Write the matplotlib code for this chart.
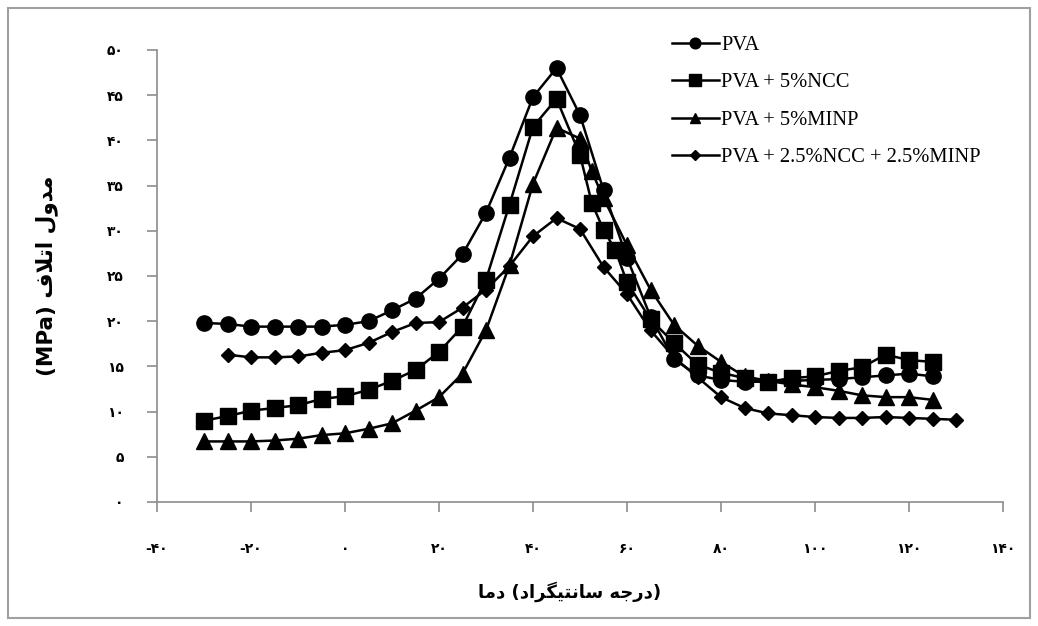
import numpy as np
import matplotlib
matplotlib.use('Agg')
from matplotlib import pyplot as plt
from matplotlib.patches import Rectangle

# temperature (C) and loss modulus (MPa)
x_pva = [-30, -25, -20, -15, -10, -5, 0, 5, 10, 15, 20, 25, 30, 35, 40, 45, 50, 55, 60, 65,
         70, 75, 80, 85, 90, 95, 100, 105, 110, 115, 120, 125]
y_pva = [19.8, 19.7, 19.4, 19.4, 19.4, 19.4, 19.6, 20.0, 21.2, 22.5, 24.7, 27.4, 32.0, 38.1, 44.8, 48.0, 42.8, 34.5, 27.0, 20.5,
         15.8, 14.0, 13.5, 13.3, 13.3, 13.4, 13.5, 13.6, 13.8, 14.0, 14.2, 13.9]

x_ncc = [-30, -25, -20, -15, -10, -5, 0, 5, 10, 15, 20, 25, 30, 35, 40, 45, 50, 52.5, 55, 57.5, 60, 65,
         70, 75, 80, 85, 90, 95, 100, 105, 110, 115, 120, 125]
y_ncc = [9.0, 9.5, 10.1, 10.4, 10.7, 11.4, 11.7, 12.4, 13.4, 14.6, 16.6, 19.4, 24.6, 32.9, 41.5, 44.6, 38.4, 33.1, 30.1, 27.9, 24.3, 20.2,
         17.6, 15.2, 14.3, 13.7, 13.3, 13.7, 13.9, 14.5, 14.9, 16.3, 15.7, 15.5]

x_minp = [-30, -25, -20, -15, -10, -5, 0, 5, 10, 15, 20, 25, 30, 35, 40, 45, 50, 52.5, 55, 60, 65,
          70, 75, 80, 85, 90, 95, 100, 105, 110, 115, 120, 125]
y_minp = [6.7, 6.7, 6.7, 6.8, 7.0, 7.4, 7.6, 8.1, 8.7, 10.1, 11.6, 14.2, 19.0, 26.2, 35.2, 41.4, 40.2, 36.6, 33.6, 28.4, 23.5,
          19.6, 17.3, 15.5, 13.9, 13.4, 13.0, 12.7, 12.3, 11.8, 11.6, 11.6, 11.3]

x_mix = [-25, -20, -15, -10, -5, 0, 5, 10, 15, 20, 25, 30, 35, 40, 45, 50, 55, 60, 65,
         70, 75, 80, 85, 90, 95, 100, 105, 110, 115, 120, 125, 130]
y_mix = [16.3, 16.0, 16.0, 16.1, 16.5, 16.8, 17.6, 18.8, 19.8, 19.9, 21.5, 23.5, 26.1, 29.4, 31.4, 30.2, 26.0, 23.0, 19.0,
         16.0, 13.8, 11.6, 10.4, 9.8, 9.6, 9.4, 9.3, 9.3, 9.4, 9.3, 9.2, 9.1]

series_names = ['PVA', 'PVA + 5%NCC', 'PVA + 5%MINP', 'PVA + 2.5%NCC + 2.5%MINP']
x_ticks = [-40, -20, 0, 20, 40, 60, 80, 100, 120, 140]
y_ticks = [0, 5, 10, 15, 20, 25, 30, 35, 40, 45, 50]

# persian digits and pre-shaped labels (visual order, matplotlib has no bidi)
fa_digits = str.maketrans('0123456789', '\u06f0\u06f1\u06f2\u06f3\u06f4\u06f5\u06f6\u06f7\u06f8\u06f9')
def fa(n):
    return str(n).translate(fa_digits)

word_dama = '\ufe8e\ufee3\ufea9'
word_daraje = '\ufeea\ufe9f\ufead\ufea9'
word_santigrad = '\ufea9\ufe8d\ufeae\ufb95\ufbff\ufe98\ufee7\ufe8e\ufeb3'
x_label = word_dama + ' (' + word_santigrad + ' ' + word_daraje + ')'
word_modul = '\ufedd\ufeed\ufeaa\ufee3'
word_etlaf = '\ufed1\ufefc\ufe97\ufe8d'
y_label = '(MPa) ' + word_etlaf + ' ' + word_modul

fig = plt.figure(figsize=(10.38, 6.26), dpi=100)
ax = fig.add_axes([157/1038, 1 - 502/626, (1003 - 157)/1038, (502 - 50)/626])

grey = '#8c8c8c'
styles = [('o', 11), ('s', 11.5), ('^', 11), ('D', 7.5)]
data = [(x_pva, y_pva), (x_ncc, y_ncc), (x_minp, y_minp), (x_mix, y_mix)]
for (xs, ys), (m, ms), name in zip(data, styles, series_names):
    ax.plot(xs, ys, color='black', lw=1.8, marker=m, markersize=ms, label=name)

ax.set_xlim(-40, 140)
ax.set_ylim(0, 50)
ax.set_xticks(x_ticks)
ax.set_yticks(y_ticks)
ax.set_xticklabels([fa(v) if v >= 0 else '-' + fa(-v) for v in x_ticks],
                   family='DejaVu Sans', fontweight='bold', fontsize=10)
ax.set_yticklabels([fa(v) for v in y_ticks], family='DejaVu Sans', fontweight='bold', fontsize=10)
ax.tick_params(axis='both', direction='out', length=7, width=1.2, color=grey)
ax.tick_params(axis='y', pad=17)
ax.tick_params(axis='x', pad=22)
for side in ['top', 'right']:
    ax.spines[side].set_visible(False)
for side in ['left', 'bottom']:
    ax.spines[side].set_color(grey)
    ax.spines[side].set_linewidth(1.2)

ax.set_xlabel(x_label, family='DejaVu Sans', fontweight='bold', fontsize=13, labelpad=18)
ax.xaxis.label.set_x((570 - 157) / 846)
ax.set_ylabel(y_label, family='DejaVu Sans', fontweight='bold', fontsize=15.5, labelpad=35)

leg = ax.legend(loc='upper left', bbox_to_anchor=(653/1038, 1 - 17/626), bbox_transform=fig.transFigure,
                frameon=False, prop={'family': 'Liberation Serif', 'size': 14.8},
                handlelength=2.33, markerscale=0.7, labelspacing=0.88, handletextpad=0.1)

fig.patches.append(Rectangle((8/1038, 8/626), 1 - 16/1038, 1 - 16/626, transform=fig.transFigure,
                             fill=False, edgecolor='#a0a0a0', lw=1.5))

plt.savefig('out.png', dpi=100)
